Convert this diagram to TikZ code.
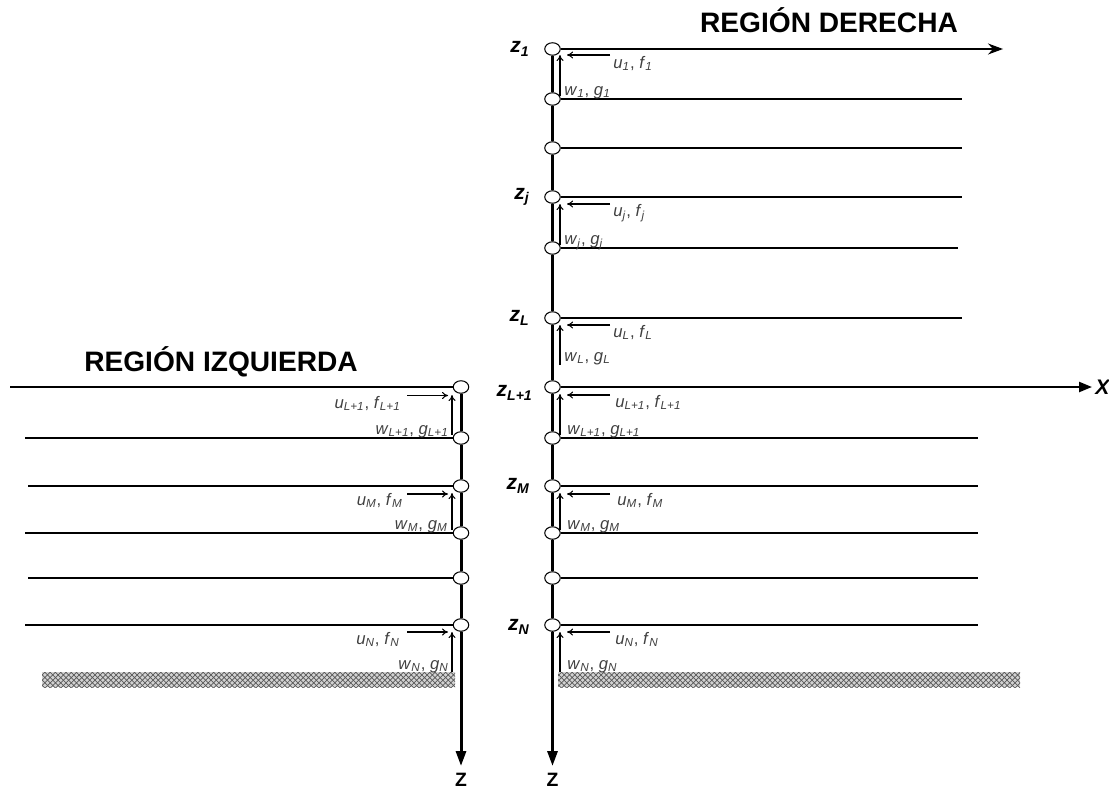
\documentclass[tikz,border=0pt]{standalone}
\usepackage{fontspec}
\setmainfont{Liberation Sans}
\usepackage{tikz}
\usetikzlibrary{shapes.geometric,arrows.meta,patterns}

\newcommand{\vsub}[2]{\textit{#1}\textsubscript{\textit{#2}}}

\tikzset{
  nodo/.style={ellipse, draw, fill=white, inner sep=0pt, line width=0.6pt,
    minimum width=0.31cm, minimum height=0.25cm},
  capa/.style={line width=0.8pt},
  eje/.style={line width=1.7pt, -{Triangle[length=0.3cm,width=0.2cm]}},
  flecha/.style={line width=0.6pt, -{To[length=0.12cm,width=0.14cm]}},
  rotulo/.style={inner sep=0pt, text=black!75, font=\fontsize{9.5}{11}\selectfont},
  cota/.style={inner sep=0pt, font=\fontsize{12}{14}\selectfont\bfseries\itshape},
  titulo/.style={inner sep=0pt, font=\fontsize{16}{19}\selectfont\bfseries}
}

\begin{document}
\begin{tikzpicture}
  \useasboundingbox (0cm,0cm) rectangle (22.18cm,-15.82cm);
  % suelo
  \fill[gray!35] (0.84cm,-13.44cm) rectangle (9.1cm,-13.74cm);
  \fill[pattern=crosshatch, pattern color=black!65] (0.84cm,-13.44cm) rectangle (9.1cm,-13.74cm);
  \fill[gray!35] (11.16cm,-13.44cm) rectangle (20.4cm,-13.74cm);
  \fill[pattern=crosshatch, pattern color=black!65] (11.16cm,-13.44cm) rectangle (20.4cm,-13.74cm);

  % region derecha
  \node[nodo] (d1) at (11.05cm,-0.98cm) {};
  \node[nodo] (d2) at (11.05cm,-1.98cm) {};
  \node[nodo] (d3) at (11.05cm,-2.96cm) {};
  \node[nodo] (d4) at (11.05cm,-3.94cm) {};
  \node[nodo] (d5) at (11.05cm,-4.96cm) {};
  \node[nodo] (d6) at (11.05cm,-6.36cm) {};
  \node[nodo] (d7) at (11.05cm,-7.74cm) {};
  \node[nodo] (d8) at (11.05cm,-8.76cm) {};
  \node[nodo] (d9) at (11.05cm,-9.72cm) {};
  \node[nodo] (d10) at (11.05cm,-10.66cm) {};
  \node[nodo] (d11) at (11.05cm,-11.56cm) {};
  \node[nodo] (d12) at (11.05cm,-12.5cm) {};
  \coordinate (zd) at (11.05cm,-15.32cm);
  \draw[eje] (d1) -- (d2) -- (d3) -- (d4) -- (d5) -- (d6) -- (d7) -- (d8) -- (d9) -- (d10) -- (d11) -- (d12) -- (zd);

  \coordinate (fd1) at (20.06cm,-0.98cm);
  \coordinate (fd2) at (19.24cm,-1.98cm);
  \coordinate (fd3) at (19.24cm,-2.96cm);
  \coordinate (fd4) at (19.24cm,-3.94cm);
  \coordinate (fd5) at (19.16cm,-4.96cm);
  \coordinate (fd6) at (19.24cm,-6.36cm);
  \coordinate (fd7) at (21.84cm,-7.74cm);
  \coordinate (fd8) at (19.56cm,-8.76cm);
  \coordinate (fd9) at (19.56cm,-9.72cm);
  \coordinate (fd10) at (19.56cm,-10.66cm);
  \coordinate (fd11) at (19.56cm,-11.56cm);
  \coordinate (fd12) at (19.56cm,-12.5cm);
  \draw[capa, -{Stealth[length=0.3cm,width=0.22cm]}] (d1) -- (fd1);
  \draw[capa] (d2) -- (fd2);
  \draw[capa] (d3) -- (fd3);
  \draw[capa] (d4) -- (fd4);
  \draw[capa] (d5) -- (fd5);
  \draw[capa] (d6) -- (fd6);
  \draw[line width=1.3pt, -{Triangle[length=0.26cm,width=0.2cm]}] (d7) -- (fd7);
  \draw[capa] (d8) -- (fd8);
  \draw[capa] (d9) -- (fd9);
  \draw[capa] (d10) -- (fd10);
  \draw[capa] (d11) -- (fd11);
  \draw[capa] (d12) -- (fd12);

  % region izquierda
  \node[nodo] (i1) at (9.22cm,-7.74cm) {};
  \node[nodo] (i2) at (9.22cm,-8.76cm) {};
  \node[nodo] (i3) at (9.22cm,-9.72cm) {};
  \node[nodo] (i4) at (9.22cm,-10.66cm) {};
  \node[nodo] (i5) at (9.22cm,-11.56cm) {};
  \node[nodo] (i6) at (9.22cm,-12.5cm) {};
  \coordinate (zi) at (9.22cm,-15.32cm);
  \draw[eje] (i1) -- (i2) -- (i3) -- (i4) -- (i5) -- (i6) -- (zi);

  \coordinate (fi1) at (0.2cm,-7.74cm);
  \coordinate (fi2) at (0.5cm,-8.76cm);
  \coordinate (fi3) at (0.56cm,-9.72cm);
  \coordinate (fi4) at (0.5cm,-10.66cm);
  \coordinate (fi5) at (0.56cm,-11.56cm);
  \coordinate (fi6) at (0.5cm,-12.5cm);
  \draw[line width=1.3pt] (i1) -- (fi1);
  \draw[capa] (i2) -- (fi2);
  \draw[capa] (i3) -- (fi3);
  \draw[capa] (i4) -- (fi4);
  \draw[capa] (i5) -- (fi5);
  \draw[capa] (i6) -- (fi6);

  % desplazamientos y tracciones, derecha
  \draw[flecha] ([shift={(1.15cm,-0.12cm)}]d1.center) -- ([shift={(0.29cm,-0.12cm)}]d1.center);
  \draw[flecha] ([shift={(0.15cm,0.06cm)}]d2.center) -- ([shift={(0.15cm,-0.12cm)}]d1.center);
  \draw[flecha] ([shift={(1.15cm,-0.14cm)}]d4.center) -- ([shift={(0.29cm,-0.14cm)}]d4.center);
  \draw[flecha] ([shift={(0.15cm,0.06cm)}]d5.center) -- ([shift={(0.15cm,-0.14cm)}]d4.center);
  \draw[flecha] ([shift={(1.15cm,-0.14cm)}]d6.center) -- ([shift={(0.29cm,-0.14cm)}]d6.center);
  \draw[flecha] ([shift={(0.15cm,0.44cm)}]d7.center) -- ([shift={(0.15cm,-0.14cm)}]d6.center);
  \draw[flecha] ([shift={(1.15cm,-0.16cm)}]d7.center) -- ([shift={(0.29cm,-0.16cm)}]d7.center);
  \draw[flecha] ([shift={(0.15cm,0.06cm)}]d8.center) -- ([shift={(0.15cm,-0.14cm)}]d7.center);
  \draw[flecha] ([shift={(1.15cm,-0.16cm)}]d9.center) -- ([shift={(0.29cm,-0.16cm)}]d9.center);
  \draw[flecha] ([shift={(0.15cm,0.06cm)}]d10.center) -- ([shift={(0.15cm,-0.14cm)}]d9.center);
  \draw[flecha] ([shift={(1.15cm,-0.14cm)}]d12.center) -- ([shift={(0.29cm,-0.14cm)}]d12.center);
  \draw[flecha] ([shift={(0.15cm,-0.94cm)}]d12.center) -- ([shift={(0.15cm,-0.14cm)}]d12.center);

  \node[rotulo, anchor=base west] (u1) at (12.26cm,-1.36cm) {\vsub{u}{1}, \vsub{f}{1}};
  \node[rotulo, anchor=base west] (w1) at (11.28cm,-1.9cm) {\vsub{w}{1}, \vsub{g}{1}};
  \node[rotulo, anchor=base west] (uj) at (12.26cm,-4.32cm) {\vsub{u}{j}, \vsub{f}{j}};
  \node[rotulo, anchor=base west] (wj) at (11.28cm,-4.88cm) {\vsub{w}{j}, \vsub{g}{j}};
  \node[rotulo, anchor=base west] (uL) at (12.26cm,-6.74cm) {\vsub{u}{L}, \vsub{f}{L}};
  \node[rotulo, anchor=base west] (wL) at (11.28cm,-7.22cm) {\vsub{w}{L}, \vsub{g}{L}};
  \node[rotulo, anchor=base west] (uL1) at (12.3cm,-8.14cm) {\vsub{u}{L+1}, \vsub{f}{L+1}};
  \node[rotulo, anchor=base west] (wL1) at (11.34cm,-8.68cm) {\vsub{w}{L+1}, \vsub{g}{L+1}};
  \node[rotulo, anchor=base west] (uM) at (12.34cm,-10.1cm) {\vsub{u}{M}, \vsub{f}{M}};
  \node[rotulo, anchor=base west] (wM) at (11.34cm,-10.58cm) {\vsub{w}{M}, \vsub{g}{M}};
  \node[rotulo, anchor=base west] (uN) at (12.3cm,-12.88cm) {\vsub{u}{N}, \vsub{f}{N}};
  \node[rotulo, anchor=base west] (wN) at (11.34cm,-13.38cm) {\vsub{w}{N}, \vsub{g}{N}};

  % desplazamientos y tracciones, izquierda
  \draw[flecha] ([shift={(-1.08cm,-0.17cm)}]i1.center) -- ([shift={(-0.26cm,-0.17cm)}]i1.center);
  \draw[flecha] ([shift={(-0.18cm,0.06cm)}]i2.center) -- ([shift={(-0.18cm,-0.16cm)}]i1.center);
  \draw[flecha] ([shift={(-1.08cm,-0.16cm)}]i3.center) -- ([shift={(-0.26cm,-0.16cm)}]i3.center);
  \draw[flecha] ([shift={(-0.18cm,0.06cm)}]i4.center) -- ([shift={(-0.18cm,-0.14cm)}]i3.center);
  \draw[flecha] ([shift={(-1.08cm,-0.14cm)}]i6.center) -- ([shift={(-0.26cm,-0.14cm)}]i6.center);
  \draw[flecha] ([shift={(-0.18cm,-0.94cm)}]i6.center) -- ([shift={(-0.18cm,-0.14cm)}]i6.center);

  \node[rotulo, anchor=base east] (iuL1) at (8.02cm,-8.16cm) {\vsub{u}{L+1}, \vsub{f}{L+1}};
  \node[rotulo, anchor=base east] (iwL1) at (8.98cm,-8.68cm) {\vsub{w}{L+1}, \vsub{g}{L+1}};
  \node[rotulo, anchor=base east] (iuM) at (8.06cm,-10.1cm) {\vsub{u}{M}, \vsub{f}{M}};
  \node[rotulo, anchor=base east] (iwM) at (8.96cm,-10.58cm) {\vsub{w}{M}, \vsub{g}{M}};
  \node[rotulo, anchor=base east] (iuN) at (8.0cm,-12.88cm) {\vsub{u}{N}, \vsub{f}{N}};
  \node[rotulo, anchor=base east] (iwN) at (8.98cm,-13.38cm) {\vsub{w}{N}, \vsub{g}{N}};

  % cotas
  \node[cota, anchor=east] (z1) at (10.6cm,-0.98cm) {z\textsubscript{1}};
  \node[cota, anchor=east] (zj) at (10.6cm,-3.94cm) {z\textsubscript{j}};
  \node[cota, anchor=east] (zL) at (10.6cm,-6.36cm) {z\textsubscript{L}};
  \node[cota, anchor=east] (zL1) at (10.66cm,-7.86cm) {z\textsubscript{L+1}};
  \node[cota, anchor=east] (zM) at (10.6cm,-9.72cm) {z\textsubscript{M}};
  \node[cota, anchor=east] (zN) at (10.6cm,-12.54cm) {z\textsubscript{N}};
  \node[cota, anchor=west] (xlab) at (21.9cm,-7.74cm) {X};
  \node[cota, font=\fontsize{11}{13}\selectfont\bfseries] (zdlab) at (11.05cm,-15.6cm) {Z};
  \node[cota, font=\fontsize{11}{13}\selectfont\bfseries] (zilab) at (9.22cm,-15.6cm) {Z};

  % titulos
  \node[titulo] (tder) at (16.58cm,-0.4cm) {REGIÓN DERECHA};
  \node[titulo] (tizq) at (4.42cm,-7.24cm) {REGIÓN IZQUIERDA};
\end{tikzpicture}
\end{document}
